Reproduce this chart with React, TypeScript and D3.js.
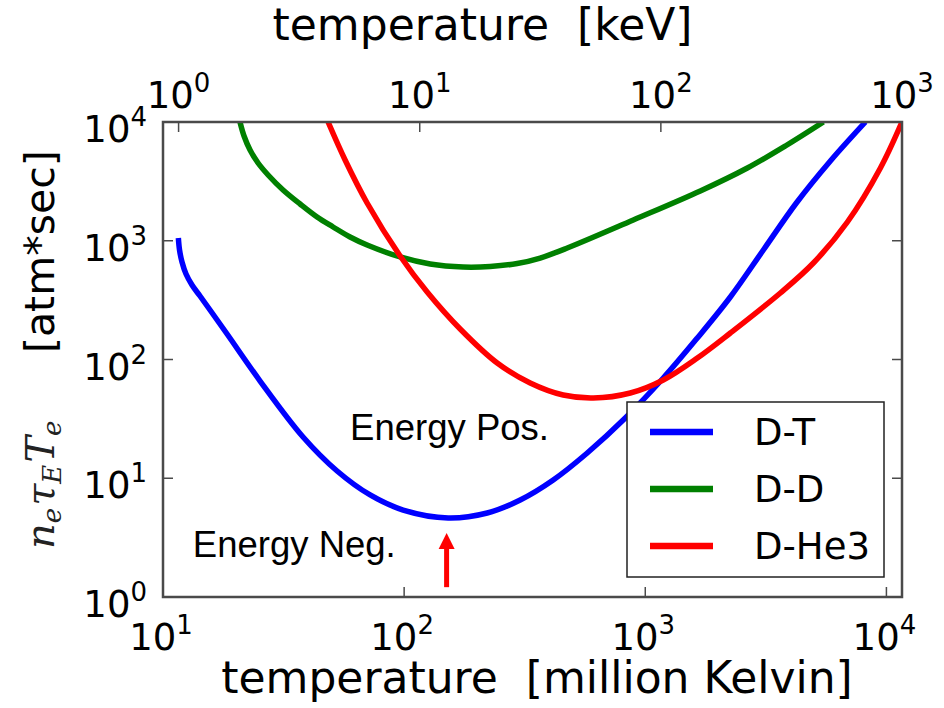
import React from "react";
import * as d3 from "d3";

// ---------- data (temperature in million Kelvin, n·τ·T in atm*sec) ----------
const DT_T = [11.58, 11.71, 11.99, 12.46, 13.19, 14.24, 15.67, 18.44, 25.27, 38.09, 52.72, 72.27, 99.05, 152.2, 221.0, 302.9, 415.2, 574.5, 826.0, 1187.6, 1643.8, 2252.8, 3087.6, 4231.5, 5855, 8182];
const DT_V = [1055, 835.8, 662.3, 524.8, 424.1, 342.5, 261.1, 163.9, 65.9, 22.26, 11.51, 7.23, 5.40, 4.63, 5.10, 6.56, 9.67, 16.32, 32.17, 69.86, 151.7, 336.0, 835.8, 2079, 4694, 10000];

const DD_T = [20.86, 21.68, 22.96, 24.79, 27.28, 31.47, 37.03, 43.55, 50.75, 59.68, 70.22, 96.25, 128.2, 175.7, 227.4, 294.3, 366.6, 474.8, 891.9, 1691, 2650, 3809, 5479];
const DD_V = [10000, 7623, 5811, 4515, 3579, 2676, 2039, 1585, 1306, 1075, 920.9, 730, 637.1, 600.9, 607, 643.3, 715.6, 868.7, 1495, 2624, 4098, 6280, 10000];

const DHE_T = [48.38, 56.91, 70.22, 96.25, 124.6, 170.8, 243.2, 333.2, 456.8, 608.5, 866.7, 1187.6, 1643.8, 2252.8, 3632, 4979, 6890, 9443, 11600];
const DHE_V = [10000, 4786, 2079, 743.8, 370.2, 180.6, 93.4, 63.4, 50.2, 47.4, 52.2, 67.2, 102.9, 167.2, 363.1, 649.5, 1438, 4098, 10000];

const SERIES = [
  { name: "D-T", color: "#0000ff", t: DT_T, v: DT_V },
  { name: "D-D", color: "#008000", t: DD_T, v: DD_V },
  { name: "D-He3", color: "#ff0000", t: DHE_T, v: DHE_V },
];

const X_TICKS = [1, 2, 3, 4]; // exponents, million Kelvin
const KEV_TICKS = [0, 1, 2, 3]; // exponents, keV
const Y_TICKS = [0, 1, 2, 3, 4];
const MK_PER_KEV = 11.6045;

const ANNOT_POS = { t: 59.7, v: 21, text: "Energy Pos." };
const ANNOT_NEG = { t: 13.3, v: 2.17, text: "Energy Neg." };
const ARROW = { t: 150, vTip: 3.46, vBase: 1.21 };

// ---------- layout ----------
const W = 944;
const H = 708;
const L = 163, R = 902, T = 122, B = 597;

export default function App() {
  const x = d3.scaleLog().domain([10, 1000 * MK_PER_KEV]).range([L, R]);
  const xTop = d3.scaleLog().domain([10 / MK_PER_KEV, 1000]).range([L, R]);
  const y = d3.scaleLog().domain([1, 1e4]).range([B, T]);

  const line = d3
    .line<[number, number]>()
    .x((d) => x(d[0]))
    .y((d) => y(d[1]))
    .curve(d3.curveCatmullRom.alpha(0.5));

  const tickFont = "DejaVu Sans, sans-serif";
  const tickSize = 37;
  const supSize = 26;
  const axisCol = "#4a4a4a";

  const sup = (e: number) => (
    <>
      <tspan>10</tspan>
      <tspan fontSize={supSize} dy={-16}>{e}</tspan>
    </>
  );

  const arrowX = x(ARROW.t);
  const tipY = y(ARROW.vTip);
  const baseY = y(ARROW.vBase);

  const legX = 627, legY = 402, legW = 257, legH = 175;

  return (
    <svg
      width={W}
      height={H}
      style={{ position: "absolute", left: 0, top: 0, background: "#fff" }}
    >
      <defs>
        <clipPath id="plotClip">
          <rect x={L} y={T} width={R - L} height={B - T} />
        </clipPath>
      </defs>
      <rect x={0} y={0} width={W} height={H} fill="#fff" />

      {/* curves */}
      <g clipPath="url(#plotClip)">
        {SERIES.map((s) => (
          <path
            key={s.name}
            d={line(s.t.map((t, i) => [t, s.v[i]] as [number, number])) || ""}
            fill="none"
            stroke={s.color}
            strokeWidth={5.5}
            strokeLinejoin="round"
            strokeLinecap="butt"
          />
        ))}
      </g>

      {/* annotations */}
      <text x={x(ANNOT_POS.t)} y={y(ANNOT_POS.v)} fontFamily="Liberation Sans, Arial, sans-serif" fontSize={36.5} fill="#000">
        {ANNOT_POS.text}
      </text>
      <text x={x(ANNOT_NEG.t)} y={y(ANNOT_NEG.v)} fontFamily="Liberation Sans, Arial, sans-serif" fontSize={36.5} fill="#000">
        {ANNOT_NEG.text}
      </text>
      <line x1={arrowX} x2={arrowX} y1={baseY} y2={tipY + 12} stroke="#ff0000" strokeWidth={5} />
      <polygon
        points={`${arrowX},${tipY} ${arrowX - 8},${tipY + 16} ${arrowX + 8},${tipY + 16}`}
        fill="#ff0000"
      />

      {/* frame */}
      <rect x={L} y={T} width={R - L} height={B - T} fill="none" stroke={axisCol} strokeWidth={2.5} />

      {/* bottom ticks */}
      {X_TICKS.map((e) => {
        const px = x(Math.pow(10, e));
        return (
          <g key={"xb" + e}>
            <line x1={px} x2={px} y1={B} y2={B - 10} stroke={axisCol} strokeWidth={1.5} />
            <text x={px - 2} y={650} textAnchor="middle" fontFamily={tickFont} fontSize={tickSize} fill="#000">
              {sup(e)}
            </text>
          </g>
        );
      })}

      {/* top ticks (keV) */}
      {KEV_TICKS.map((e) => {
        const px = xTop(Math.pow(10, e));
        return (
          <g key={"xt" + e}>
            <line x1={px} x2={px} y1={T} y2={T + 10} stroke={axisCol} strokeWidth={1.5} />
            <text x={px} y={108} textAnchor="middle" fontFamily={tickFont} fontSize={tickSize} fill="#000">
              {sup(e)}
            </text>
          </g>
        );
      })}

      {/* left / right ticks */}
      {Y_TICKS.map((e) => {
        const py = y(Math.pow(10, e));
        return (
          <g key={"y" + e}>
            <line x1={L} x2={L + 10} y1={py} y2={py} stroke={axisCol} strokeWidth={1.5} />
            <line x1={R} x2={R - 10} y1={py} y2={py} stroke={axisCol} strokeWidth={1.5} />
            <text x={147} y={py + 20} textAnchor="end" fontFamily={tickFont} fontSize={tickSize} fill="#000">
              {sup(e)}
            </text>
          </g>
        );
      })}

      {/* axis titles */}
      <text x={482.5} y={40} textAnchor="middle" fontFamily={tickFont} fontSize={44} fill="#000" xmlSpace="preserve">
        temperature  [keV]
      </text>
      <text x={537} y={693} textAnchor="middle" fontFamily={tickFont} fontSize={44} fill="#000" xmlSpace="preserve">
        temperature  [million Kelvin]
      </text>

      {/* y label */}
      <g transform="translate(54,353) rotate(-90)">
        <text x={0} y={0} fontFamily={tickFont} fontSize={41} fill="#000">[atm*sec]</text>
      </g>
      <g transform="translate(54,549) rotate(-90)">
        <text x={0} y={0} fontFamily="DejaVu Serif, Liberation Serif, serif" fontStyle="italic" fontSize={40} fill="#222">
          <tspan>n</tspan>
          <tspan fontSize={26} dy={7}>e</tspan>
          <tspan dy={-7} dx={2}>τ</tspan>
          <tspan fontSize={26} dy={7}>E</tspan>
          <tspan dy={-7} dx={2}>T</tspan>
          <tspan fontSize={26} dy={7}>e</tspan>
        </text>
      </g>

      {/* legend */}
      <rect x={legX} y={legY} width={legW} height={legH} fill="#fff" stroke="#222" strokeWidth={1.5} />
      {SERIES.map((s, i) => {
        const ly = 432 + i * 57;
        return (
          <g key={"leg" + s.name}>
            <line x1={650} x2={713} y1={ly} y2={ly} stroke={s.color} strokeWidth={6.5} />
            <text x={754} y={ly + 13} fontFamily={tickFont} fontSize={37} fill="#000">
              {s.name}
            </text>
          </g>
        );
      })}
    </svg>
  );
}
